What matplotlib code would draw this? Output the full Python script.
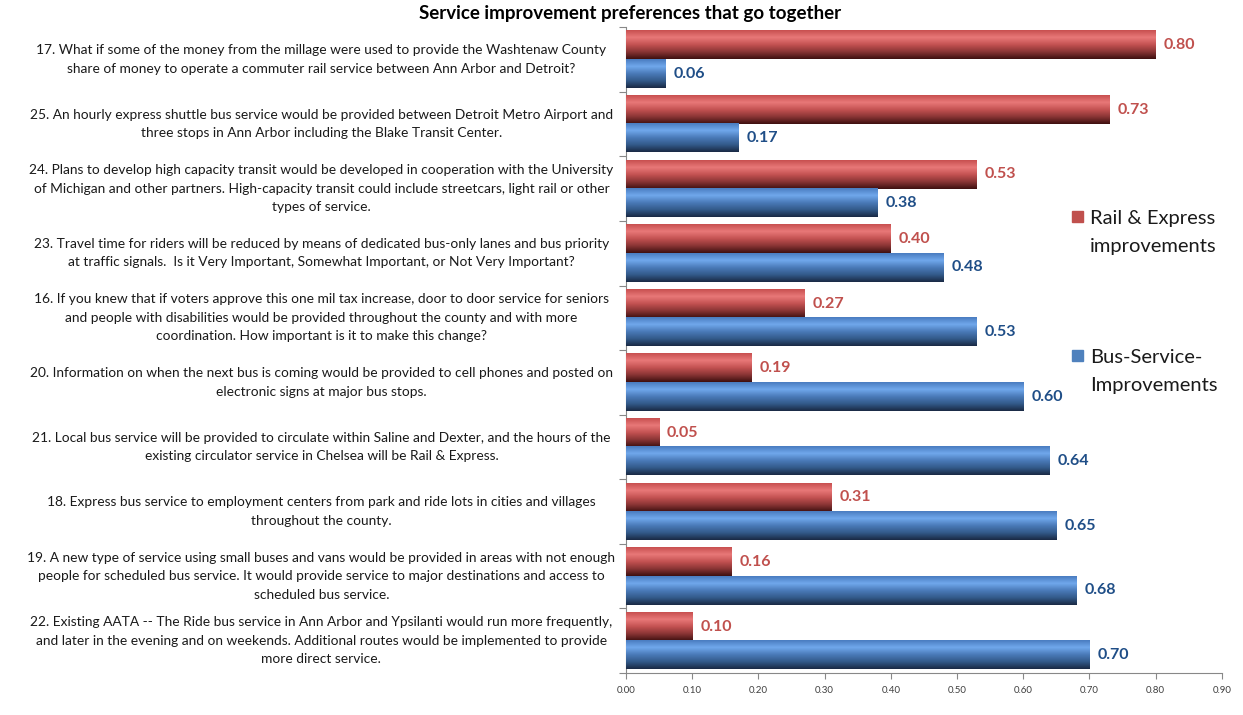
import numpy as np
import matplotlib
matplotlib.use("Agg")
import matplotlib.pyplot as plt
import matplotlib.colors as mcolors
from matplotlib.patches import Rectangle

plt.rcParams['font.family'] = ['Lato', 'DejaVu Sans']

# questions, haut vers bas
questions = [
    "17. What if some of the money from the millage were used to provide the Washtenaw County\nshare of money to operate a commuter rail service between Ann Arbor and Detroit?",
    "25. An hourly express shuttle bus service would be provided between Detroit Metro Airport and\nthree stops in Ann Arbor including the Blake Transit Center.",
    "24. Plans to develop high capacity transit would be developed in cooperation with the University\nof Michigan and other partners. High-capacity transit could include streetcars, light rail or other\ntypes of service.",
    "23. Travel time for riders will be reduced by means of dedicated bus-only lanes and bus priority\nat traffic signals.  Is it Very Important, Somewhat Important, or Not Very Important?",
    "16. If you knew that if voters approve this one mil tax increase, door to door service for seniors\nand people with disabilities would be provided throughout the county and with more\ncoordination. How important is it to make this change?",
    "20. Information on when the next bus is coming would be provided to cell phones and posted on\nelectronic signs at major bus stops.",
    "21. Local bus service will be provided to circulate within Saline and Dexter, and the hours of the\nexisting circulator service in Chelsea will be Rail & Express.",
    "18. Express bus service to employment centers from park and ride lots in cities and villages\nthroughout the county.",
    "19. A new type of service using small buses and vans would be provided in areas with not enough\npeople for scheduled bus service. It would provide service to major destinations and access to\nscheduled bus service.",
    "22. Existing AATA -- The Ride bus service in Ann Arbor and Ypsilanti would run more frequently,\nand later in the evening and on weekends. Additional routes would be implemented to provide\nmore direct service.",
]
rail = [0.80, 0.73, 0.53, 0.40, 0.27, 0.19, 0.05, 0.31, 0.16, 0.10]
bus = [0.06, 0.17, 0.38, 0.48, 0.53, 0.60, 0.64, 0.65, 0.68, 0.70]
series_names = ["Rail & Express\nimprovements", "Bus-Service-\nImprovements"]
xticks = np.arange(0, 0.91, 0.10)

# degradés façon excel (haut -> bas)
red_stops = ["#c85050", "#e87878", "#c45252", "#8a3535", "#3f1010"]
blue_stops = ["#4a7cc0", "#70a8ec", "#4a7ab8", "#335a8a", "#1a2a45"]


def gradient(stops, n=64):
    rgb = np.array([mcolors.to_rgb(c) for c in stops])
    pos = np.linspace(0, 1, len(stops))
    t = np.linspace(0, 1, n)
    cols = np.stack([np.interp(t, pos, rgb[:, k]) for k in range(3)], axis=1)
    return cols.reshape(n, 1, 3)


fig = plt.figure(figsize=(12.43, 7.15), dpi=100)
ax = fig.add_axes([0.5036, 0.0587, 0.4794, 0.9033])

n = len(questions)
y = np.arange(n)[::-1].astype(float)
h = 0.44
bars_r = ax.barh(y + h / 2, rail, height=h, color="#c0504d", label=series_names[0])
bars_b = ax.barh(y - h / 2, bus, height=h, color="#4f81bd", label=series_names[1])

for bars, stops in [(bars_r, red_stops), (bars_b, blue_stops)]:
    img = gradient(stops)
    for p in bars.patches:
        x0, y0 = p.get_x(), p.get_y()
        ax.imshow(img, extent=[x0, x0 + p.get_width(), y0, y0 + p.get_height()],
                  aspect="auto", origin="upper", zorder=3, interpolation="bilinear")

for bars, vals, col in [(bars_r, rail, "#c0504d"), (bars_b, bus, "#1f4e87")]:
    for p, v in zip(bars.patches, vals):
        ax.text(v + 0.012, p.get_y() + p.get_height() / 2, f"{v:.2f}", color=col,
                fontsize=11.5, fontweight="bold", va="center", ha="left", zorder=4)

ax.set_xlim(0, 0.90)
ax.set_ylim(-0.5, n - 0.5)
ax.set_xticks(xticks)
ax.set_xticklabels([f"{t:.2f}" for t in xticks], fontsize=7, color="#404040")
ax.set_yticks(np.arange(n + 1) - 0.5)
ax.set_yticklabels([])
ax.tick_params(axis="x", length=4, color="#888888", pad=5)
ax.tick_params(axis="y", length=5, color="#888888")
for s in ["top", "right"]:
    ax.spines[s].set_visible(False)
for s in ["left", "bottom"]:
    ax.spines[s].set_color("#888888")

# libellés des questions, centrés à gauche
for yi, q in zip(y, questions):
    ax.text(-0.46, yi, q, ha="center", va="center", fontsize=9.95,
            color="#1a1a1a", linespacing=1.65, transform=ax.transData)

fig.text(0.507, 0.981, "Service improvement preferences that go together",
         ha="center", va="center", fontsize=13.5, fontweight="bold")

# légende à la main : carré aligné sur la première ligne
for name, bars, ytop in [(series_names[0], bars_r, 0.7067), (series_names[1], bars_b, 0.4915)]:
    ax.add_patch(Rectangle((0.749, ytop - 0.0085), 0.0185, 0.017, transform=ax.transAxes,
                           color=bars.patches[0].get_facecolor(), clip_on=False))
    ax.text(0.7785, ytop + 0.010, name, transform=ax.transAxes, ha="left", va="top",
            fontsize=14.5, linespacing=1.75, color="#1a1a1a")

fig.savefig("out.png", dpi=100)
